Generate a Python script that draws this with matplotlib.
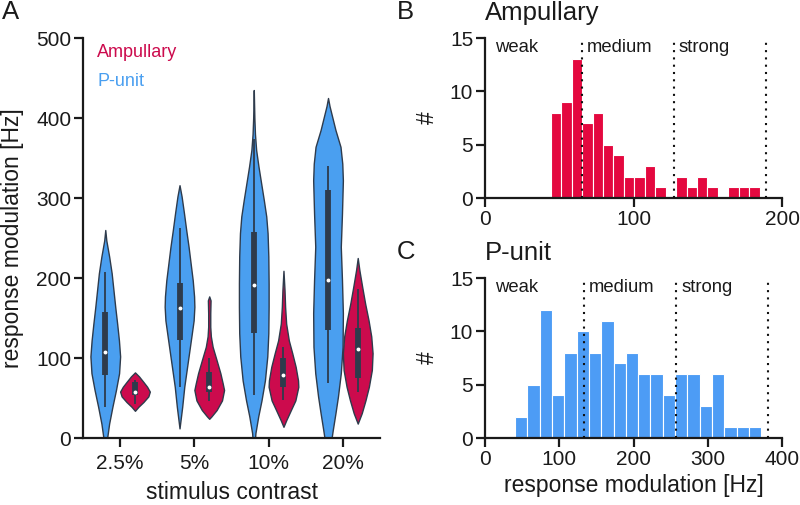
import numpy as np
import matplotlib
matplotlib.use("Agg")
import matplotlib.pyplot as plt

plt.rcParams['font.family'] = ['Liberation Sans', 'DejaVu Sans']

# ---------------- data ----------------
contrasts = ["2.5%", "5%", "10%", "20%"]

# violin outlines: response modulation [Hz] levels and relative half widths
punit_hz = [
    [260, 247, 227, 206, 185, 164, 143, 122, 102, 81, 60, 39, 18, -2, -10],
    [316, 302, 281, 260, 239, 218, 197, 177, 164, 147, 127, 106, 85, 64, 39, 12],
    [435, 400, 380, 360, 339, 318, 297, 277, 256, 227, 193, 164, 131, 102, 72, 47, 27, 6, -10],
    [425, 415, 400, 385, 364, 343, 322, 281, 239, 197, 156, 114, 81, 52, 31, 10, -10],
]
punit_w = [
    [0, 0.07, 0.26, 0.43, 0.55, 0.67, 0.8, 0.92, 1.0, 0.93, 0.72, 0.48, 0.26, 0.11, 0.06],
    [0, 0.14, 0.3, 0.45, 0.61, 0.75, 0.89, 0.98, 1.0, 0.95, 0.8, 0.64, 0.48, 0.32, 0.18, 0],
    [0, 0.04, 0.08, 0.16, 0.32, 0.5, 0.68, 0.84, 0.93, 0.98, 1.0, 1.0, 0.98, 0.91, 0.75, 0.52, 0.3, 0.11, 0.05],
    [0, 0.1, 0.3, 0.5, 0.84, 0.96, 1.0, 0.94, 0.86, 0.94, 1.0, 0.98, 0.86, 0.67, 0.5, 0.32, 0.16],
]
ampul_hz = [
    [82, 77, 70, 64, 58, 52, 45, 39, 34],
    [177, 172, 156, 139, 127, 114, 97, 81, 68, 60, 47, 35, 27, 24],
    [209, 185, 164, 143, 122, 106, 89, 72, 64, 47, 35, 22, 14],
    [225, 210, 189, 168, 147, 127, 106, 85, 64, 47, 31, 18],
]
ampul_w = [
    [0, 0.27, 0.57, 0.82, 1.0, 0.9, 0.57, 0.23, 0],
    [0, 0.09, 0.07, 0.07, 0.11, 0.23, 0.5, 0.75, 0.91, 1.0, 0.86, 0.5, 0.15, 0],
    [0, 0.07, 0.11, 0.18, 0.36, 0.59, 0.82, 0.98, 1.0, 0.8, 0.5, 0.18, 0],
    [0, 0.11, 0.3, 0.5, 0.73, 0.91, 1.0, 0.95, 0.75, 0.52, 0.27, 0],
]

# box statistics per contrast
punit_lo = [39, 64, 54, 69]
punit_q1 = [79, 122, 131, 135]
punit_med = [108, 163, 191, 197]
punit_q3 = [158, 194, 257, 310]
punit_hi = [208, 263, 374, 340]

ampul_lo = [42, 46, 48, 58]
ampul_q1 = [54, 58, 64, 75]
ampul_med = [57, 64, 79, 111]
ampul_q3 = [70, 83, 100, 137]
ampul_hi = [73, 100, 114, 186]

# histograms
ampul_edges = np.linspace(44.3, 185.0, 21)
ampul_counts = [8, 9, 13, 7, 8, 5, 4, 2, 2, 3, 1, 0, 2, 1, 2, 1, 0, 1, 1, 1]
ampul_bounds = [65, 127, 189]

punit_edges = np.linspace(40.4, 372.2, 21)
punit_counts = [2, 5, 12, 4, 8, 10, 8, 11, 7, 8, 6, 6, 4, 6, 6, 3, 6, 1, 1, 1]
punit_bounds = [133, 257, 381]

class_labels = ["weak", "medium", "strong"]

# ---------------- style ----------------
c_blue_v = '#4a9ff0'
c_red_v = '#cc0b4d'
c_blue_h = '#4d9cf5'
c_red_h = '#e4083f'
c_edge = '#2e3b4c'
c_spine = '#1a1a1a'
c_text = '#1a1a1a'

fig = plt.figure(figsize=(8.0, 5.05), dpi=100)
axA = fig.add_axes([83/800, 67/505, 297/800, 400/505])
axB = fig.add_axes([485/800, 307/505, 297/800, 160/505])
axC = fig.add_axes([485/800, 67/505, 297/800, 160/505])

def style(ax):
    for s in ['top', 'right']:
        ax.spines[s].set_visible(False)
    for s in ['left', 'bottom']:
        ax.spines[s].set_linewidth(1.6)
        ax.spines[s].set_color(c_spine)
    ax.tick_params(direction='out', length=6.5, width=1.6, color=c_spine,
                   labelsize=15, labelcolor=c_text, pad=2)

# ---------------- panel A ----------------
half = 0.2
for i in range(len(contrasts)):
    for hz, w, off, col, lo, q1, md, q3, hi in [
        (punit_hz[i], punit_w[i], -0.2, c_blue_v, punit_lo[i], punit_q1[i], punit_med[i], punit_q3[i], punit_hi[i]),
        (ampul_hz[i], ampul_w[i], 0.2, c_red_v, ampul_lo[i], ampul_q1[i], ampul_med[i], ampul_q3[i], ampul_hi[i]),
    ]:
        y = np.array(hz, dtype=float)
        ww = np.array(w, dtype=float) * half
        xc = i + off
        axA.fill_betweenx(y, xc - ww, xc + ww, facecolor=col, edgecolor=c_edge,
                          linewidth=1.0, zorder=2)
        axA.plot([xc, xc], [lo, hi], color=c_edge, lw=1.3, zorder=3, solid_capstyle='butt')
        axA.plot([xc, xc], [q1, q3], color=c_edge, lw=4.2, zorder=3, solid_capstyle='butt')
        axA.plot([xc], [md], marker='o', ms=1.8, color='white', mec='white', zorder=4)

axA.set_xlim(-0.5, 3.5)
axA.set_ylim(0, 500)
axA.set_xticks(range(len(contrasts)))
axA.set_xticklabels(contrasts)
axA.set_yticks([0, 100, 200, 300, 400, 500])
style(axA)
axA.tick_params(axis='x', pad=5)
axA.set_xlabel("stimulus contrast", fontsize=16.5, color=c_text, labelpad=6)
axA.set_ylabel("response modulation [Hz]", fontsize=16.5, color=c_text, labelpad=9)
axA.text(-0.31, 482, "Ampullary", color=c_red_v, fontsize=13, va='center', ha='left')
axA.text(-0.31, 445, "P-unit", color=c_blue_v, fontsize=13, va='center', ha='left')

# ---------------- panels B, C ----------------
def hist_panel(ax, edges, counts, col, bounds, xmax, xticks, title):
    ax.bar(edges[:-1], counts, width=np.diff(edges), align='edge', color=col,
           edgecolor='white', linewidth=0.8, zorder=2)
    for b in bounds:
        ax.plot([b, b], [0, 15], color='#111111', lw=1.5, ls=(0, (1, 2.5)), zorder=3)
    ax.text(xmax * 0.033, 14.1, class_labels[0], fontsize=13.3, va='center', ha='left', color=c_text)
    ax.text(bounds[0] + xmax * 0.018, 14.1, class_labels[1], fontsize=13.3, va='center', ha='left', color=c_text)
    ax.text(bounds[1] + xmax * 0.018, 14.1, class_labels[2], fontsize=13.3, va='center', ha='left', color=c_text)
    ax.set_xlim(0, xmax)
    ax.set_ylim(0, 15)
    ax.set_xticks(xticks)
    ax.set_yticks([0, 5, 10, 15])
    style(ax)
    ax.set_ylabel("#", fontsize=16.5, color=c_text, labelpad=8)
    ax.set_title(title, loc='left', fontsize=18.5, color=c_text, pad=13)

hist_panel(axB, ampul_edges, ampul_counts, c_red_h, ampul_bounds, 200, [0, 100, 200], "Ampullary")
hist_panel(axC, punit_edges, punit_counts, c_blue_h, punit_bounds, 400, [0, 100, 200, 300, 400], "P-unit")
axC.set_xlabel("response modulation [Hz]", fontsize=16.5, color=c_text, labelpad=4)

fig.text(2/800, 1 - 12/505, "A", fontsize=18.5, va='center', ha='left', color=c_text)
fig.text(397/800, 1 - 12/505, "B", fontsize=18.5, va='center', ha='left', color=c_text)
fig.text(397/800, 1 - 252/505, "C", fontsize=18.5, va='center', ha='left', color=c_text)

fig.savefig("out.png", dpi=100)
